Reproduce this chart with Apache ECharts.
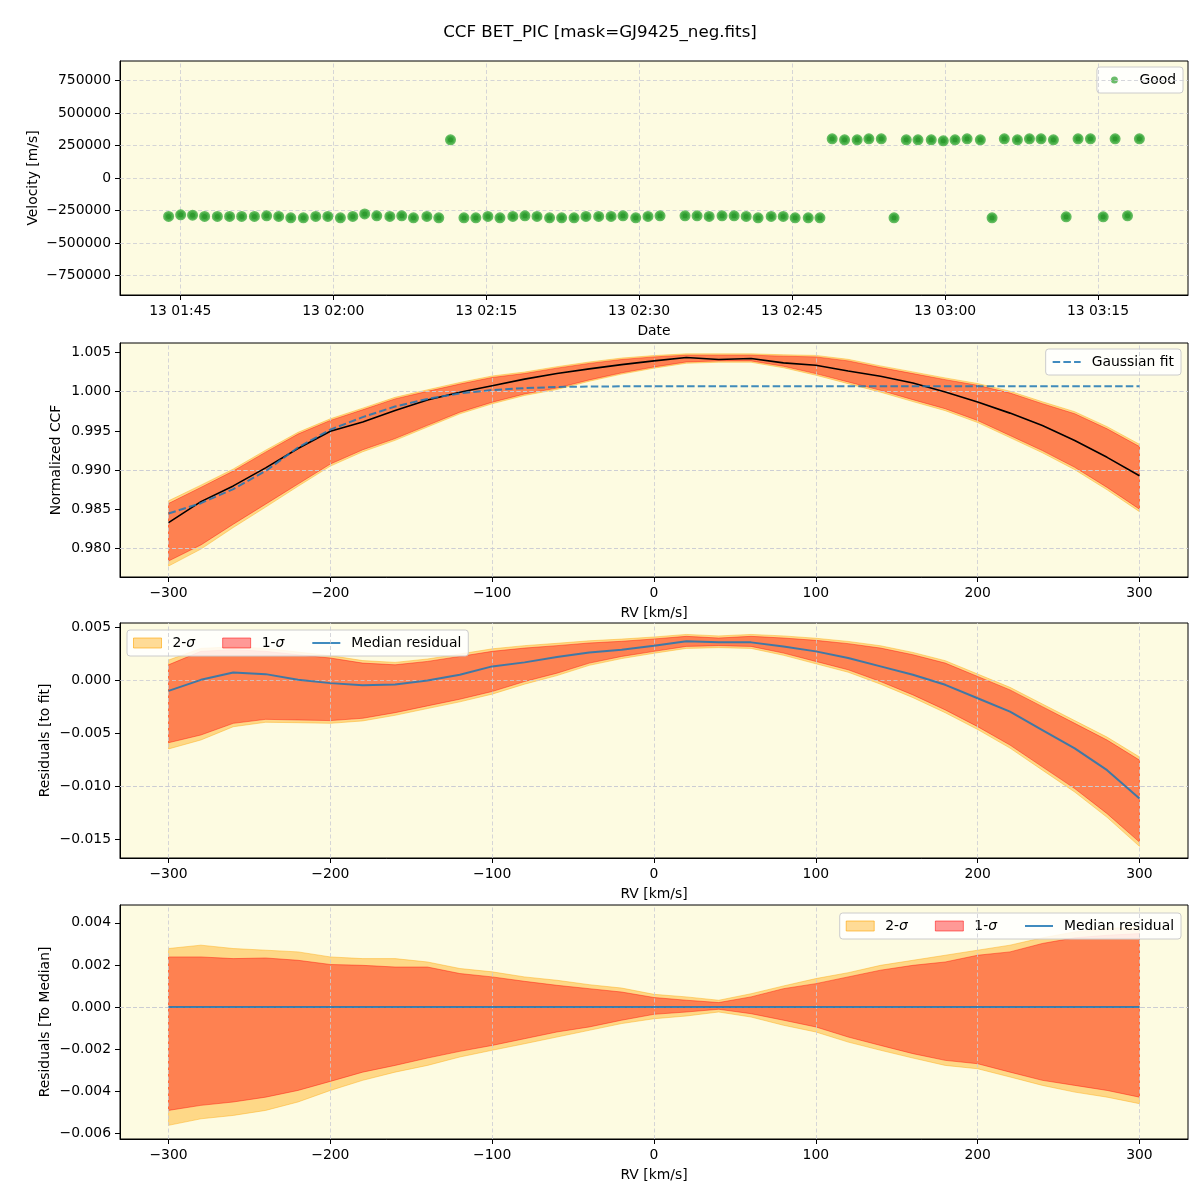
<!DOCTYPE html>
<html>
<head>
<meta charset="utf-8">
<script src="https://cdn.jsdelivr.net/npm/echarts@6/dist/echarts.min.js"></script>
<style>html,body{margin:0;padding:0;background:#fff}#c{width:1200px;height:1200px}</style>
</head>
<body>
<div id="c"></div>
<script>
// ---------------- data ----------------
const chartTitle = 'CCF BET_PIC [mask=GJ9425_neg.fits]';
const obsDay = 13;
const obsTimes = ['01:43:51','01:45:02','01:46:12','01:47:23','01:48:38','01:49:50','01:51:01','01:52:16','01:53:28','01:54:39',
 '01:55:50','01:57:04','01:58:17','01:59:28','02:00:42','02:01:55','02:03:05','02:04:16','02:05:33','02:06:43',
 '02:07:52','02:09:11','02:10:21','02:11:30','02:12:49','02:13:59','02:15:10','02:16:21','02:17:37','02:18:48',
 '02:19:59','02:21:13','02:22:24','02:23:37','02:24:47','02:26:02','02:27:15','02:28:25','02:29:40','02:30:52',
 '02:32:03','02:34:30','02:35:41','02:36:52','02:38:08','02:39:19','02:40:30','02:41:40','02:42:57','02:44:08',
 '02:45:18','02:46:35','02:47:44','02:48:56','02:50:09','02:51:23','02:52:32','02:53:45','02:55:00','02:56:12',
 '02:57:21','02:58:39','02:59:50','03:00:59','03:02:10','03:03:28','03:04:37','03:05:49','03:07:06','03:08:17',
 '03:09:25','03:10:38','03:11:53','03:13:03','03:14:16','03:15:31','03:16:41','03:17:54','03:19:04'];
const obsVelocity = [-296000,-283000,-286000,-296000,-296000,-296000,-296000,-296000,-291000,-296000,
 -306000,-306000,-296000,-296000,-306000,-296000,-276000,-291000,-296000,-291000,
 -306000,-296000,-306000,294000,-306000,-306000,-296000,-306000,-296000,-291000,
 -296000,-306000,-306000,-306000,-296000,-296000,-296000,-291000,-306000,-296000,
 -291000,-291000,-291000,-296000,-291000,-291000,-296000,-306000,-296000,-296000,
 -306000,-306000,-306000,301000,294000,294000,301000,301000,-306000,294000,
 294000,294000,286000,294000,301000,294000,-306000,301000,294000,301000,
 301000,294000,-299000,301000,301000,-299000,301000,-291000,301000];
const timeTickLabels = ['01:45','02:00','02:15','02:30','02:45','03:00','03:15'];
const velocityTicks = [-750000,-500000,-250000,0,250000,500000,750000];

const rv = [-300,-280,-260,-240,-220,-200,-180,-160,-140,-120,-100,-80,-60,-40,-20,0,20,40,60,80,100,120,140,160,180,200,220,240,260,280,300];
const rvTicks = [-300,-200,-100,0,100,200,300];

const ccfMedian = [0.98333,0.98600,0.98800,0.99030,0.99277,0.99496,0.99613,0.99760,0.99895,0.99992,1.00076,1.00160,1.00231,1.00290,1.00345,
 1.00392,1.00435,1.00409,1.00422,1.00367,1.00337,1.00264,1.00196,1.00111,0.99996,0.99868,0.99727,0.99569,0.99378,0.99164,0.98930];
const gaussFit = [0.98448,0.98580,0.98760,0.98990,0.99290,0.99517,0.99676,0.99811,0.99908,0.99979,1.00021,1.00046,1.00060,1.00066,1.00068,
 1.00068,1.00068,1.00068,1.00068,1.00068,1.00068,1.00068,1.00068,1.00068,1.00068,1.00068,1.00068,1.00068,1.00068,1.00068,1.00068];
const ccf1Hi = [0.98576,0.98781,0.98990,0.99230,0.99460,0.99634,0.99769,0.99908,1.00004,1.00097,1.00181,1.00231,1.00300,1.00360,1.00410,
 1.00443,1.00465,1.00465,1.00465,1.00452,1.00443,1.00392,1.00307,1.00230,1.00153,1.00081,0.99983,0.99847,0.99719,0.99527,0.99301];
const ccf1Lo = [0.97843,0.98048,0.98312,0.98568,0.98824,0.99079,0.99260,0.99403,0.99571,0.99739,0.99866,0.99971,1.00046,1.00150,1.00240,
 1.00315,1.00379,1.00392,1.00392,1.00324,1.00230,1.00124,1.00017,0.99898,0.99783,0.99633,0.99442,0.99250,0.99037,0.98781,0.98504];
const ccf2Hi = [0.98610,0.98810,0.99015,0.99255,0.99482,0.99655,0.99790,0.99928,1.00024,1.00117,1.00200,1.00250,1.00318,1.00378,1.00428,
 1.00460,1.00482,1.00482,1.00482,1.00470,1.00462,1.00412,1.00328,1.00252,1.00175,1.00104,1.00006,0.99872,0.99745,0.99555,0.99330];
const ccf2Lo = [0.97779,0.97995,0.98270,0.98530,0.98795,0.99052,0.99235,0.99380,0.99550,0.99718,0.99846,0.99952,1.00028,1.00133,1.00224,
 1.00300,1.00362,1.00375,1.00375,1.00305,1.00210,1.00102,0.99994,0.99874,0.99758,0.99607,0.99415,0.99222,0.99007,0.98750,0.98472];
const ccfTicks = [0.980,0.985,0.990,0.995,1.000,1.005];

const resMedian = [-0.00101,0.00003,0.00073,0.00057,0.00003,-0.00028,-0.00047,-0.00041,-0.00003,0.00051,0.00130,0.00168,0.00218,0.00262,0.00288,
 0.00326,0.00367,0.00357,0.00357,0.00319,0.00272,0.00209,0.00130,0.00051,-0.00044,-0.00171,-0.00297,-0.00471,-0.00645,-0.00850,-0.01119];
const res1Hi = [0.00145,0.00272,0.00288,0.00272,0.00240,0.00209,0.00161,0.00145,0.00177,0.00224,0.00272,0.00303,0.00326,0.00351,0.00367,
 0.00389,0.00414,0.00398,0.00414,0.00398,0.00376,0.00345,0.00303,0.00240,0.00161,0.00035,-0.00092,-0.00250,-0.00408,-0.00566,-0.00755];
const res1Lo = [-0.00591,-0.00518,-0.00408,-0.00370,-0.00376,-0.00382,-0.00360,-0.00307,-0.00243,-0.00180,-0.00107,-0.00013,0.00066,0.00161,0.00224,
 0.00272,0.00319,0.00326,0.00319,0.00256,0.00177,0.00098,-0.00013,-0.00139,-0.00281,-0.00439,-0.00613,-0.00819,-0.01024,-0.01261,-0.01530];
const res2Hi = [0.00190,0.00300,0.00315,0.00300,0.00265,0.00232,0.00185,0.00168,0.00200,0.00247,0.00296,0.00326,0.00348,0.00372,0.00388,
 0.00408,0.00432,0.00418,0.00432,0.00418,0.00396,0.00366,0.00325,0.00262,0.00184,0.00058,-0.00068,-0.00225,-0.00382,-0.00538,-0.00725];
const res2Lo = [-0.00650,-0.00565,-0.00440,-0.00398,-0.00402,-0.00408,-0.00385,-0.00332,-0.00268,-0.00205,-0.00132,-0.00038,0.00043,0.00140,0.00204,
 0.00254,0.00300,0.00307,0.00300,0.00235,0.00155,0.00075,-0.00038,-0.00165,-0.00308,-0.00466,-0.00642,-0.00850,-0.01057,-0.01296,-0.01570];
const resTicks = [-0.015,-0.010,-0.005,0.000,0.005];

const relMedian = [0,0,0,0,0,0,0,0,0,0,0,0,0,0,0,0,0,0,0,0,0,0,0,0,0,0,0,0,0,0,0];
const rel1Hi = [0.00238,0.00238,0.00230,0.00233,0.00222,0.00202,0.00198,0.00190,0.00190,0.00159,0.00143,0.00122,0.00103,0.00087,0.00071,
 0.00045,0.00032,0.00021,0.00048,0.00087,0.00111,0.00143,0.00175,0.00198,0.00214,0.00246,0.00262,0.00302,0.00329,0.00341,0.00349];
const rel1Lo = [-0.00492,-0.00468,-0.00452,-0.00429,-0.00397,-0.00354,-0.00310,-0.00278,-0.00243,-0.00211,-0.00183,-0.00151,-0.00119,-0.00095,-0.00063,
 -0.00035,-0.00024,-0.00011,-0.00032,-0.00063,-0.00095,-0.00143,-0.00183,-0.00222,-0.00254,-0.00270,-0.00310,-0.00349,-0.00373,-0.00397,-0.00429];
const rel2Hi = [0.00278,0.00294,0.00278,0.00270,0.00262,0.00238,0.00230,0.00230,0.00214,0.00183,0.00167,0.00143,0.00127,0.00106,0.00090,
 0.00060,0.00048,0.00032,0.00063,0.00100,0.00135,0.00163,0.00198,0.00222,0.00246,0.00270,0.00294,0.00329,0.00357,0.00373,0.00381];
const rel2Lo = [-0.00563,-0.00532,-0.00516,-0.00492,-0.00452,-0.00397,-0.00349,-0.00310,-0.00278,-0.00238,-0.00206,-0.00175,-0.00143,-0.00111,-0.00079,
 -0.00056,-0.00043,-0.00024,-0.00048,-0.00087,-0.00119,-0.00167,-0.00206,-0.00243,-0.00278,-0.00294,-0.00333,-0.00373,-0.00405,-0.00429,-0.00460];
const relTicks = [-0.006,-0.004,-0.002,0.000,0.002,0.004];

// ---------------- helpers ----------------
const FONT = 'DejaVu Sans';
const FS = 13.9;
function ts(hms) {
  const p = hms.split(':').map(Number);
  return new Date(2000, 0, obsDay, p[0], p[1], p[2] || 0).getTime();
}
function pad2(n) { return (n < 10 ? '0' : '') + n; }
function fmt(v, d) {
  const s = Math.abs(v).toFixed(d);
  return (v < 0 && Number(s) !== 0 ? '\u2212' : '') + s;
}
const C2 = 'rgba(255,165,0,0.4)';
const C1 = 'rgba(255,0,0,0.4)';
const BLUE = 'rgba(31,119,180,0.85)';
const BG = '#fdfbe1';
const GRIDC = '#cacbd3';

function grid(top, height) {
  return {left: 120, right: 12, top, height, show: true, backgroundColor: BG, borderColor: '#000', borderWidth: 1};
}
function axisCommon(ticks, formatter) {
  return {
    axisLine: {show: true, onZero: false, lineStyle: {color: '#000', width: 1}},
    axisTick: {show: true, length: 5, lineStyle: {color: '#000'}, customValues: ticks},
    axisLabel: {color: '#000', fontSize: FS, fontFamily: FONT, margin: 9, customValues: ticks, formatter},
    splitLine: {show: false},
    nameTextStyle: {color: '#000', fontSize: FS, fontFamily: FONT},
    nameLocation: 'middle',
    nameMoveOverlap: false
  };
}
function xAxis(idx, min, max, ticks, formatter, name) {
  return Object.assign(axisCommon(ticks, formatter), {type: 'value', gridIndex: idx, min, max, name, nameGap: 29});
}
function yAxis(idx, min, max, ticks, formatter, name, gap) {
  return Object.assign(axisCommon(ticks, formatter), {type: 'value', gridIndex: idx, min, max, name, nameGap: gap});
}
function gridLines(idx, xv, yv) {
  return {
    type: 'line', name: '_grid' + idx, xAxisIndex: idx, yAxisIndex: idx, data: [], silent: true, z: 4,
    markLine: {
      silent: true, symbol: ['none', 'none'], animation: false, label: {show: false}, z: 4,
      lineStyle: {color: GRIDC, width: 0.8, type: [4, 2.5]},
      emphasis: {disabled: true},
      data: xv.map(v => ({xAxis: v})).concat(yv.map(v => ({yAxis: v})))
    }
  };
}
function band(name, idx, xs, lo, hi, color, z) {
  return {
    type: 'custom', name, xAxisIndex: idx, yAxisIndex: idx, z, silent: true, clip: true,
    data: [[xs[0], lo[0]]],
    itemStyle: {color},
    renderItem: function (params, api) {
      const pts = [];
      for (let i = 0; i < xs.length; i++) pts.push(api.coord([xs[i], hi[i]]));
      for (let i = xs.length - 1; i >= 0; i--) pts.push(api.coord([xs[i], lo[i]]));
      return {type: 'polygon', shape: {points: pts}, style: {fill: color, stroke: color, lineWidth: 1}};
    }
  };
}
function line(name, idx, xs, ys, color, width, type, z) {
  return {
    type: 'line', name, xAxisIndex: idx, yAxisIndex: idx, z, symbol: 'none', showSymbol: false, silent: true,
    data: xs.map((x, i) => [x, ys[i]]),
    lineStyle: {color, width, type},
    itemStyle: {color}
  };
}
const sigmaFmt = n => n.replace('σ', '{i|σ}');
const legendText = {color: '#000', fontSize: FS, fontFamily: FONT, padding: [0, 0, 0, 6],
  rich: {i: {fontStyle: 'italic', fontSize: FS, fontFamily: FONT, color: '#000'}}};
const legendBox = {orient: 'horizontal', backgroundColor: 'rgba(255,255,255,0.85)', borderColor: '#cccccc',
  borderWidth: 1, borderRadius: 3, padding: [6, 7, 6, 6], selectedMode: false};
const noSymbol = {color: 'rgba(0,0,0,0)', opacity: 0, borderWidth: 0};
const sigmaLegendData = [
  {name: '2-σ', icon: 'rect', itemStyle: {color: C2, borderColor: 'rgba(255,165,0,0.6)', borderWidth: 1}},
  {name: '1-σ', icon: 'rect', itemStyle: {color: C1, borderColor: 'rgba(255,0,0,0.5)', borderWidth: 1}},
  {name: 'Median residual', itemStyle: noSymbol}
];

const timeTicks = timeTickLabels.map(ts);
const timeFmt = v => { const d = new Date(v); return d.getDate() + ' ' + pad2(d.getHours()) + ':' + pad2(d.getMinutes()); };

const option = {
  animation: false,
  backgroundColor: '#fff',
  title: {text: chartTitle, left: 'center', top: 24, padding: 0,
    textStyle: {fontSize: 16.7, fontWeight: 'normal', fontFamily: FONT, color: '#000'}},
  grid: [grid(61, 234), grid(343, 234), grid(623, 235), grid(905, 234)],
  xAxis: [
    xAxis(0, ts('01:39:05'), ts('03:23:50'), timeTicks, timeFmt, 'Date'),
    xAxis(1, -330, 330, rvTicks, v => fmt(v, 0), 'RV [km/s]'),
    xAxis(2, -330, 330, rvTicks, v => fmt(v, 0), 'RV [km/s]'),
    xAxis(3, -330, 330, rvTicks, v => fmt(v, 0), 'RV [km/s]')
  ],
  yAxis: [
    yAxis(0, -900000, 900000, velocityTicks, v => fmt(v, 0), 'Velocity [m/s]', 80),
    yAxis(1, 0.9764, 1.0062, ccfTicks, v => fmt(v, 3), 'Normalized CCF', 57),
    yAxis(2, -0.0168, 0.0054, resTicks, v => fmt(v, 3), 'Residuals [to fit]', 68),
    yAxis(3, -0.00628, 0.00485, relTicks, v => fmt(v, 3), 'Residuals [To Median]', 68)
  ],
  legend: [
    Object.assign({}, legendBox, {right: 17, top: 67, itemWidth: 28, itemHeight: 7,
      textStyle: legendText, padding: [6, 7, 6, 14],
      data: [{name: 'Good', icon: 'circle', itemStyle: {color: 'rgba(44,160,44,0.7)', borderWidth: 0}}]}),
    Object.assign({}, legendBox, {right: 19, top: 349, itemWidth: 28, itemHeight: 10,
      textStyle: legendText, data: [{name: 'Gaussian fit', itemStyle: noSymbol}]}),
    Object.assign({}, legendBox, {left: 127, top: 630, itemWidth: 28, itemHeight: 10, itemGap: 27,
      textStyle: legendText, formatter: sigmaFmt, data: sigmaLegendData}),
    Object.assign({}, legendBox, {right: 19, top: 913, itemWidth: 28, itemHeight: 10, itemGap: 27,
      textStyle: legendText, formatter: sigmaFmt, data: sigmaLegendData})
  ],
  series: [
    gridLines(0, timeTicks, velocityTicks),
    {
      type: 'scatter', name: 'Good', xAxisIndex: 0, yAxisIndex: 0, z: 6, silent: true,
      symbol: 'circle', symbolSize: 8,
      data: obsTimes.map((t, i) => [ts(t), obsVelocity[i]]),
      itemStyle: {color: '#2e9a2e', borderColor: 'rgba(70,175,70,0.85)', borderWidth: 3, opacity: 1}
    },
    band('CCF 2σ band', 1, rv, ccf2Lo, ccf2Hi, C2, 2),
    band('CCF 1σ band', 1, rv, ccf1Lo, ccf1Hi, C1, 3),
    gridLines(1, rvTicks, ccfTicks),
    line('Median CCF', 1, rv, ccfMedian, '#000', 1.6, 'solid', 6),
    line('Gaussian fit', 1, rv, gaussFit, BLUE, 2, [7.5, 3.2], 7),
    band('2-σ', 2, rv, res2Lo, res2Hi, C2, 2),
    band('1-σ', 2, rv, res1Lo, res1Hi, C1, 3),
    gridLines(2, rvTicks, resTicks),
    line('Median residual', 2, rv, resMedian, BLUE, 2, 'solid', 6),
    band('2-σ', 3, rv, rel2Lo, rel2Hi, C2, 2),
    band('1-σ', 3, rv, rel1Lo, rel1Hi, C1, 3),
    gridLines(3, rvTicks, relTicks),
    line('Median residual', 3, rv, relMedian, BLUE, 2, 'solid', 6)
  ]
};

const chart = echarts.init(document.getElementById('c'), null, {renderer: 'canvas'});
chart.setOption(option);
</script>
</body>
</html>
